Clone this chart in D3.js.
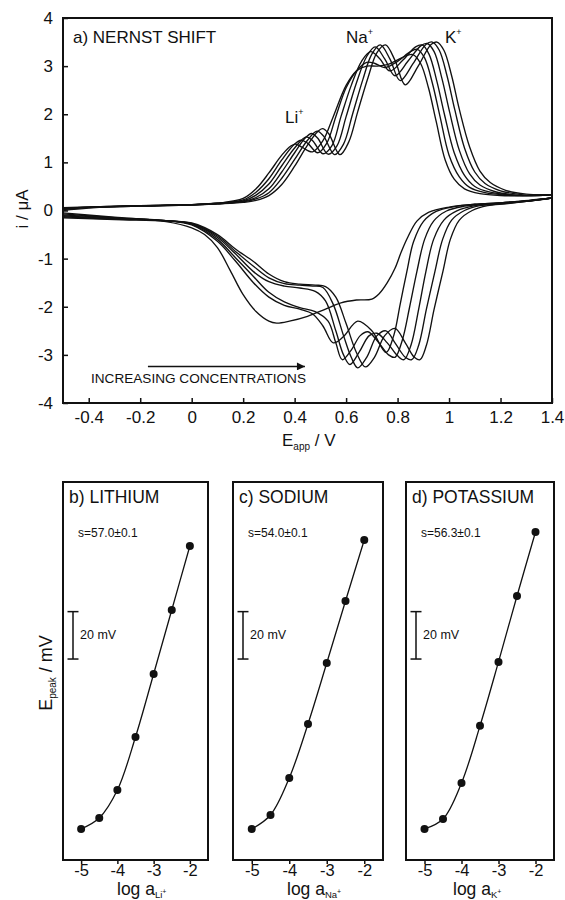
<!DOCTYPE html>
<html><head><meta charset="utf-8">
<script src="https://cdn.jsdelivr.net/npm/d3@7"></script>
<style>
body{margin:0;background:#fff}
text{font-family:"Liberation Sans",Arial,sans-serif;fill:#111}
</style>
</head><body>
<svg id="c" width="565" height="900"></svg>
<script>
// ---------- DATA ----------
const cvTicksX = [-0.4,-0.2,0,0.2,0.4,0.6,0.8,1,1.2,1.4];
const cvTicksY = [-4,-3,-2,-1,0,1,2,3,4];

// forward (anodic) scans, [E / V, i / uA], increasing concentration
const forward1 = [[-0.5,0.06],[-0.4,0.07],[-0.2,0.09],[0.0,0.12],[0.1,0.15],[0.2,0.25],[0.25,0.45],[0.3,0.78],[0.35,1.15],[0.385,1.34],[0.405,1.38],[0.43,1.31],[0.47,1.22],[0.51,1.45],[0.55,1.95],[0.6,2.6],[0.64,2.9],[0.68,3.0],[0.72,3.0],[0.76,3.03],[0.8,3.13],[0.84,3.23],[0.86,3.24],[0.89,3.05],[0.92,2.55],[0.95,1.85],[0.985,1.05],[1.02,0.65],[1.06,0.45],[1.12,0.35],[1.2,0.31],[1.3,0.31],[1.4,0.33]];
const forward2 = [[-0.5,0.05],[-0.4,0.07],[-0.2,0.09],[0.0,0.12],[0.1,0.15],[0.2,0.22],[0.25,0.38],[0.3,0.66],[0.35,1.05],[0.4,1.38],[0.425,1.46],[0.45,1.4],[0.49,1.2],[0.525,1.4],[0.56,1.95],[0.6,2.55],[0.64,2.9],[0.68,3.08],[0.71,3.06],[0.75,2.97],[0.8,3.1],[0.85,3.3],[0.877,3.35],[0.905,3.17],[0.935,2.65],[0.965,1.95],[1.0,1.15],[1.04,0.7],[1.08,0.48],[1.14,0.37],[1.22,0.32],[1.3,0.31],[1.4,0.33]];
const forward3 = [[-0.5,0.04],[-0.4,0.07],[-0.2,0.1],[0.0,0.12],[0.1,0.15],[0.2,0.2],[0.25,0.32],[0.3,0.55],[0.35,0.93],[0.4,1.3],[0.445,1.53],[0.47,1.45],[0.51,1.18],[0.545,1.35],[0.58,1.95],[0.62,2.6],[0.66,3.1],[0.695,3.3],[0.73,3.16],[0.77,2.9],[0.82,3.12],[0.87,3.4],[0.895,3.44],[0.922,3.25],[0.952,2.7],[0.982,2.0],[1.02,1.2],[1.06,0.73],[1.1,0.5],[1.16,0.38],[1.24,0.32],[1.32,0.31],[1.4,0.33]];
const forward4 = [[-0.5,0.03],[-0.4,0.07],[-0.2,0.1],[0.0,0.12],[0.1,0.14],[0.2,0.19],[0.25,0.27],[0.3,0.45],[0.35,0.8],[0.4,1.2],[0.44,1.5],[0.466,1.6],[0.49,1.5],[0.53,1.17],[0.565,1.35],[0.6,1.95],[0.64,2.65],[0.68,3.2],[0.713,3.4],[0.75,3.15],[0.79,2.8],[0.84,3.1],[0.89,3.42],[0.915,3.47],[0.942,3.3],[0.972,2.75],[1.002,2.05],[1.04,1.25],[1.08,0.76],[1.12,0.53],[1.18,0.39],[1.26,0.32],[1.34,0.31],[1.4,0.33]];
const forward5 = [[-0.5,0.02],[-0.4,0.06],[-0.2,0.1],[0.0,0.12],[0.1,0.14],[0.2,0.18],[0.25,0.24],[0.3,0.37],[0.35,0.67],[0.4,1.06],[0.45,1.46],[0.487,1.65],[0.512,1.55],[0.555,1.16],[0.59,1.38],[0.625,2.0],[0.665,2.72],[0.7,3.25],[0.733,3.44],[0.77,3.15],[0.81,2.7],[0.86,3.05],[0.91,3.45],[0.935,3.5],[0.962,3.33],[0.992,2.8],[1.022,2.1],[1.06,1.3],[1.1,0.8],[1.14,0.56],[1.2,0.41],[1.28,0.33],[1.34,0.31],[1.4,0.33]];
const forward6 = [[-0.5,0.0],[-0.4,0.05],[-0.2,0.1],[0.0,0.12],[0.1,0.14],[0.2,0.17],[0.25,0.21],[0.3,0.31],[0.35,0.54],[0.4,0.92],[0.45,1.36],[0.49,1.64],[0.508,1.7],[0.532,1.6],[0.576,1.16],[0.61,1.42],[0.645,2.05],[0.685,2.76],[0.72,3.28],[0.753,3.44],[0.79,3.12],[0.83,2.61],[0.88,3.0],[0.93,3.45],[0.953,3.5],[0.98,3.33],[1.01,2.8],[1.04,2.1],[1.08,1.32],[1.12,0.82],[1.16,0.58],[1.22,0.42],[1.3,0.34],[1.4,0.33]];

// reverse (cathodic) scans, [E / V, i / uA]
const reverse1 = [[-0.5,-0.05],[-0.3,-0.14],[-0.1,-0.23],[0.0,-0.36],[0.05,-0.5],[0.1,-0.77],[0.15,-1.25],[0.2,-1.75],[0.25,-2.1],[0.3,-2.3],[0.33,-2.34],[0.38,-2.3],[0.45,-2.2],[0.52,-2.05],[0.58,-1.92],[0.64,-1.86],[0.7,-1.84],[0.73,-1.72],[0.76,-1.5],[0.79,-1.2],[0.815,-0.85],[0.84,-0.55],[0.875,-0.22],[0.92,-0.04],[1.0,0.07],[1.1,0.13],[1.2,0.16],[1.3,0.2],[1.4,0.26]];
const reverse2 = [[-0.5,-0.07],[-0.3,-0.15],[-0.1,-0.21],[0.0,-0.3],[0.1,-0.64],[0.17,-1.05],[0.24,-1.5],[0.3,-1.8],[0.36,-1.97],[0.42,-2.05],[0.47,-2.15],[0.51,-2.4],[0.55,-2.75],[0.59,-2.62],[0.645,-2.3],[0.7,-2.5],[0.755,-2.95],[0.785,-2.6],[0.81,-1.95],[0.836,-1.27],[0.862,-0.65],[0.9,-0.23],[0.95,-0.02],[1.02,0.08],[1.1,0.13],[1.2,0.16],[1.3,0.2],[1.4,0.26]];
const reverse3 = [[-0.5,-0.09],[-0.3,-0.16],[-0.1,-0.21],[0.0,-0.29],[0.1,-0.6],[0.17,-0.98],[0.24,-1.37],[0.3,-1.7],[0.36,-1.9],[0.42,-2.02],[0.48,-2.1],[0.53,-2.3],[0.56,-2.75],[0.585,-3.1],[0.62,-2.9],[0.655,-2.6],[0.685,-2.52],[0.72,-2.7],[0.765,-3.0],[0.79,-3.05],[0.818,-2.7],[0.847,-2.0],[0.875,-1.27],[0.905,-0.6],[0.94,-0.22],[0.99,-0.01],[1.06,0.09],[1.15,0.14],[1.25,0.18],[1.4,0.26]];
const reverse4 = [[-0.5,-0.11],[-0.3,-0.17],[-0.1,-0.21],[0.0,-0.28],[0.1,-0.56],[0.17,-0.9],[0.24,-1.27],[0.3,-1.48],[0.36,-1.57],[0.42,-1.61],[0.48,-1.68],[0.52,-1.88],[0.56,-2.5],[0.59,-3.0],[0.615,-3.2],[0.65,-2.95],[0.69,-2.6],[0.72,-2.55],[0.76,-2.75],[0.8,-3.02],[0.825,-3.1],[0.852,-2.8],[0.882,-2.05],[0.91,-1.27],[0.94,-0.6],[0.98,-0.2],[1.03,-0.01],[1.1,0.1],[1.2,0.15],[1.3,0.19],[1.4,0.26]];
const reverse5 = [[-0.5,-0.13],[-0.3,-0.18],[-0.1,-0.21],[0.0,-0.27],[0.1,-0.53],[0.17,-0.85],[0.24,-1.16],[0.3,-1.4],[0.36,-1.52],[0.42,-1.55],[0.47,-1.57],[0.51,-1.6],[0.55,-1.95],[0.59,-2.6],[0.62,-3.05],[0.645,-3.27],[0.68,-3.05],[0.72,-2.6],[0.755,-2.5],[0.79,-2.75],[0.83,-3.05],[0.855,-3.1],[0.882,-2.8],[0.912,-2.05],[0.945,-1.27],[0.975,-0.6],[1.01,-0.2],[1.06,0.0],[1.12,0.1],[1.2,0.14],[1.3,0.19],[1.4,0.26]];
const reverse6 = [[-0.5,-0.15],[-0.3,-0.19],[-0.1,-0.22],[0.0,-0.26],[0.1,-0.5],[0.17,-0.8],[0.24,-1.06],[0.3,-1.32],[0.36,-1.48],[0.42,-1.53],[0.48,-1.55],[0.52,-1.58],[0.56,-1.8],[0.6,-2.35],[0.64,-2.95],[0.675,-3.25],[0.71,-3.05],[0.75,-2.6],[0.79,-2.45],[0.83,-2.75],[0.865,-3.05],[0.887,-3.1],[0.912,-2.8],[0.942,-2.05],[0.976,-1.27],[1.005,-0.6],[1.04,-0.2],[1.09,0.0],[1.15,0.1],[1.22,0.14],[1.3,0.19],[1.4,0.26]];

// calibration panels: log activity vs peak potential (relative, mV)
const logActivity = [-5,-4.5,-4,-3.5,-3,-2.5,-2];
const liPeakMV = [0,4.6,16.4,38.8,65.4,92.4,119.4];
const naPeakMV = [0,5.9,21.5,44.3,70.0,96.2,121.9];
const kPeakMV  = [0,4.2,19.4,43.5,70.5,98.3,125.3];
const logTicks = [-5,-4,-3,-2];
const scaleBarMV = 20;

// ---------- DRAW ----------
const svg = d3.select("#c");
const INK = "#111";

// ===== Panel a =====
const L=63, R=552, T=18, B=403;
const x = d3.scaleLinear().domain([-0.5,1.4]).range([L,R]);
const y = d3.scaleLinear().domain([-4,4]).range([B,T]);

svg.append("clipPath").attr("id","clipA").append("rect")
  .attr("x",L).attr("y",T).attr("width",R-L).attr("height",B-T);

const fmt = d => String(d);
const gx = svg.append("g").attr("transform",`translate(0,${B})`)
  .call(d3.axisBottom(x).tickValues(cvTicksX).tickFormat(fmt).tickSize(-5).tickSizeOuter(0).tickPadding(8));
const gy = svg.append("g").attr("transform",`translate(${L},0)`)
  .call(d3.axisLeft(y).tickValues(cvTicksY).tickFormat(fmt).tickSize(-5).tickSizeOuter(0).tickPadding(10));
[gx,gy].forEach(g=>{
  g.selectAll("text").style("font-size","17px").attr("fill",INK);
  g.selectAll(".tick line").attr("stroke",INK).attr("stroke-width",1.5);
  g.select(".domain").remove();
});
svg.append("rect").attr("x",L).attr("y",T).attr("width",R-L).attr("height",B-T)
  .attr("fill","none").attr("stroke",INK).attr("stroke-width",2);

const cvLine = d3.line().x(d=>x(d[0])).y(d=>y(d[1])).curve(d3.curveCatmullRom.alpha(0.5));
const scans = [forward1,forward2,forward3,forward4,forward5,forward6,reverse1,reverse2,reverse3,reverse4,reverse5,reverse6];
svg.append("g").attr("clip-path","url(#clipA)").selectAll("path").data(scans).join("path")
  .attr("d",cvLine).attr("fill","none").attr("stroke",INK).attr("stroke-width",1.35);

svg.append("text").attr("x",73).attr("y",43).style("font-size","17px").text("a) NERNST SHIFT");
function ion(xp,yp,name){
  const t=svg.append("text").attr("x",xp).attr("y",yp).style("font-size","17px");
  t.append("tspan").text(name);
  t.append("tspan").attr("dy",-8).style("font-size","9px").text("+");
}
ion(285,123,"Li");
ion(346,43,"Na");
ion(445,43,"K");

// arrow
svg.append("defs").append("marker").attr("id","arr").attr("viewBox","0 0 10 10")
  .attr("refX",10).attr("refY",5).attr("markerWidth",10).attr("markerHeight",8)
  .attr("markerUnits","userSpaceOnUse").attr("orient","auto")
  .append("path").attr("d","M0,0L10,5L0,10Z").attr("fill",INK);
svg.append("line").attr("x1",x(-0.17)).attr("x2",x(0.44)).attr("y1",y(-3.24)).attr("y2",y(-3.24))
  .attr("stroke",INK).attr("stroke-width",1.5).attr("marker-end","url(#arr)");
svg.append("text").attr("x",91).attr("y",383).style("font-size","13.6px").text("INCREASING CONCENTRATIONS");

// axis titles
const xt = svg.append("text").attr("x",282).attr("y",446).style("font-size","17px");
xt.append("tspan").text("E");
xt.append("tspan").attr("dy",4).style("font-size","10px").text("app");
xt.append("tspan").attr("dy",-4).text(" / V");
svg.append("text").attr("transform","translate(28,209) rotate(-90)").attr("text-anchor","middle")
  .style("font-size","17px").text("i / μA");

// ===== Panels b, c, d =====
const PT=482, PB=860;
const panels = [
  {l:63, r:208, vals:liPeakMV, title:"b) LITHIUM", s:"s=57.0±0.1", sub:"Li", lx:117},
  {l:233,r:383, vals:naPeakMV, title:"c) SODIUM", s:"s=54.0±0.1", sub:"Na", lx:287},
  {l:406,r:554, vals:kPeakMV,  title:"d) POTASSIUM", s:"s=56.3±0.1", sub:"K", lx:453}
];
panels.forEach(p=>{
  const px = d3.scaleLinear().domain([-5.5,-1.5]).range([p.l,p.r]);
  const py = d3.scaleLinear().domain([-13.1,146.4]).range([PB,PT]);
  const g = svg.append("g");
  const ax = g.append("g").attr("transform",`translate(0,${PB})`)
    .call(d3.axisBottom(px).tickValues(logTicks).tickFormat(fmt).tickSize(4).tickSizeOuter(0).tickPadding(0));
  ax.selectAll("text").style("font-size","16.5px").attr("fill",INK);
  ax.selectAll(".tick line").attr("stroke",INK).attr("stroke-width",1.5);
  ax.select(".domain").remove();
  g.append("rect").attr("x",p.l).attr("y",PT).attr("width",p.r-p.l).attr("height",PB-PT)
    .attr("fill","none").attr("stroke",INK).attr("stroke-width",2);
  const pts = logActivity.map((a,i)=>[a,p.vals[i]]);
  g.append("path").datum(pts)
    .attr("d",d3.line().x(d=>px(d[0])).y(d=>py(d[1])).curve(d3.curveCatmullRom.alpha(0.5)))
    .attr("fill","none").attr("stroke",INK).attr("stroke-width",1.3);
  g.selectAll("circle").data(pts).join("circle")
    .attr("cx",d=>px(d[0])).attr("cy",d=>py(d[1])).attr("r",4).attr("fill",INK);
  g.append("text").attr("x",p.l+6).attr("y",PT+21).style("font-size","17.5px").text(p.title);
  g.append("text").attr("x",p.l+15).attr("y",PT+55).style("font-size","12px").text(p.s);
  // 20 mV scale bar
  const bx = p.l+10, b0 = py(71.7), b1 = py(71.7+scaleBarMV);
  g.append("line").attr("x1",bx).attr("x2",bx).attr("y1",b0).attr("y2",b1).attr("stroke",INK).attr("stroke-width",1.5);
  [b0,b1].forEach(v=>g.append("line").attr("x1",bx-5.5).attr("x2",bx+5.5).attr("y1",v).attr("y2",v).attr("stroke",INK).attr("stroke-width",1.5));
  g.append("text").attr("x",bx+7).attr("y",(b0+b1)/2+4).style("font-size","12.5px").text(scaleBarMV+" mV");
  // x title
  const t = g.append("text").attr("x",p.lx).attr("y",895).style("font-size","17.5px");
  t.append("tspan").text("log a");
  t.append("tspan").attr("dy",3).style("font-size","9.5px").text(p.sub);
  t.append("tspan").attr("dy",-4).style("font-size","7px").text("+");
});
const yt = svg.append("text").attr("transform","translate(52,673) rotate(-90)").attr("text-anchor","middle").style("font-size","18px");
yt.append("tspan").text("E");
yt.append("tspan").attr("dy",4).style("font-size","10px").text("peak");
yt.append("tspan").attr("dy",-4).text(" / mV");
</script>
</body></html>
